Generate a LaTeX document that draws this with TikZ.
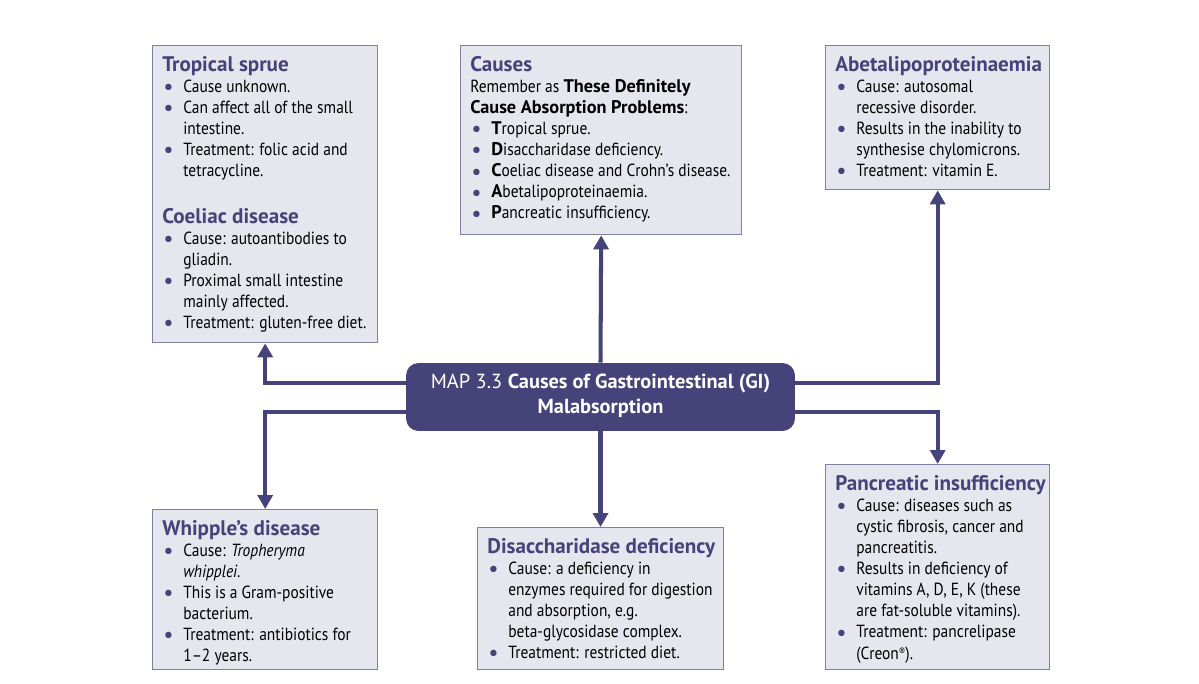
\documentclass[tikz,border=0pt]{standalone}
\usepackage{fontspec}
\setmainfont{PT Sans}[FakeStretch=0.88]
\newfontfamily\plainfont{PT Sans}
\usetikzlibrary{positioning,arrows.meta}
\definecolor{mapblue}{RGB}{69,67,122}
\definecolor{boxfill}{RGB}{230,230,238}
\definecolor{boxline}{RGB}{128,128,158}
\newcommand{\bul}{\makebox[.42cm][l]{\hspace{.02cm}\raisebox{-.25ex}{\textcolor{mapblue}{\plainfont\fontsize{13}{12}\selectfont\textbullet}}}}
\newcommand{\ind}{\hspace*{.42cm}}
\newcommand{\ttl}[1]{{\plainfont\fontsize{12}{12}\selectfont\bfseries\color{mapblue}#1}}
\newcommand{\bld}[1]{{\plainfont\bfseries\fontsize{10.4}{12}\selectfont #1}}

\begin{document}
\begin{tikzpicture}[x = .02cm, y = .02cm,
  box/.style = {draw = boxline, fill = boxfill, line width = .8pt, inner sep = 0pt, anchor = north west},
  txt/.style = {anchor = north west, align = left, inner sep = 0pt, font = \fontsize{10}{12}\selectfont},
  hub/.style = {fill = mapblue, rounded corners = .25cm, text = white, align = center, font = \plainfont\fontsize{11.6}{14}\selectfont},
  conn/.style = {draw = mapblue, line width = 2.3pt, -{Triangle[width = .3cm, length = .28cm]}}]
\useasboundingbox (0,0) rectangle (1199,683);
% boxes
\node[box, minimum width = 4.5cm, minimum height = 5.94cm] (trop) at (152,638) {};
\node[box, minimum width = 5.62cm, minimum height = 3.78cm] (causes) at (460,638) {};
\node[box, minimum width = 4.48cm, minimum height = 2.88cm] (abeta) at (825,638) {};
\node[box, minimum width = 4.5cm, minimum height = 3.2cm] (whip) at (152,174) {};
\node[box, minimum width = 4.92cm, minimum height = 2.84cm] (disac) at (477,156) {};
\node[box, minimum width = 4.48cm, minimum height = 4.1cm] (panc) at (825,219) {};
\node[hub, minimum width = 7.78cm, minimum height = 1.36cm, text depth = .12cm] (map) at (600.5,286) {MAP 3.3 \textbf{Causes of Gastrointestinal (GI)}\\\textbf{Malabsorption}};

% texts
\node[txt] (trop-t) at ([shift={(10,-11)}]trop.north west) {\ttl{Tropical sprue}\\
\bul Cause unknown.\\
\bul Can affect all of the small\\
\ind intestine.\\
\bul Treatment: folic acid and\\
\ind tetracycline.\\[14.5pt]
\ttl{Coeliac disease}\\
\bul Cause: autoantibodies to\\
\ind gliadin.\\
\bul Proximal small intestine\\
\ind mainly affected.\\
\bul Treatment: gluten-free diet.};
\node[txt] (causes-t) at ([shift={(10,-11)}]causes.north west) {\ttl{Causes}\\
Remember as \bld{These Definitely}\\
\bld{Cause Absorption Problems}:\\
\bul\bld{T}ropical sprue.\\
\bul\bld{D}isaccharidase deficiency.\\
\bul\bld{C}oeliac disease and Crohn’s disease.\\
\bul\bld{A}betalipoproteinaemia.\\
\bul\bld{P}ancreatic insufficiency.};
\node[txt] (abeta-t) at ([shift={(10,-11)}]abeta.north west) {\ttl{Abetalipoproteinaemia}\\
\bul Cause: autosomal\\
\ind recessive disorder.\\
\bul Results in the inability to\\
\ind synthesise chylomicrons.\\
\bul Treatment: vitamin E.};
\node[txt] (whip-t) at ([shift={(10,-11)}]whip.north west) {\ttl{Whipple’s disease}\\
\bul Cause: \textit{Tropheryma}\\
\ind\textit{whipplei}.\\
\bul This is a Gram-positive\\
\ind bacterium.\\
\bul Treatment: antibiotics for\\
\ind 1–2 years.};
\node[txt] (disac-t) at ([shift={(10,-11)}]disac.north west) {\ttl{Disaccharidase deficiency}\\
\bul Cause: a deficiency in\\
\ind enzymes required for digestion\\
\ind and absorption, e.g.\\
\ind beta-glycosidase complex.\\
\bul Treatment: restricted diet.};
\node[txt] (panc-t) at ([shift={(10,-11)}]panc.north west) {\ttl{Pancreatic insufficiency}\\
\bul Cause: diseases such as\\
\ind cystic fibrosis, cancer and\\
\ind pancreatitis.\\
\bul Results in deficiency of\\
\ind vitamins A, D, E, K (these\\
\ind are fat-soluble vitamins).\\
\bul Treatment: pancrelipase\\
\ind (Creon\raisebox{.45ex}{\fontsize{6}{6}\selectfont ®}).};

% connectors
\draw[conn] ([yshift=.28cm]map.west) -| (trop.south);
\draw[conn] ([yshift=-.3cm]map.west) -| (whip.north);
\draw[conn] (map.north) -- (causes.south);
\draw[conn] (map.south) -- (map.south |- disac.north);
\draw[conn] ([yshift=.28cm]map.east) -| (abeta.south);
\draw[conn] ([yshift=-.3cm]map.east) -| (panc.north);
\end{tikzpicture}
\end{document}
